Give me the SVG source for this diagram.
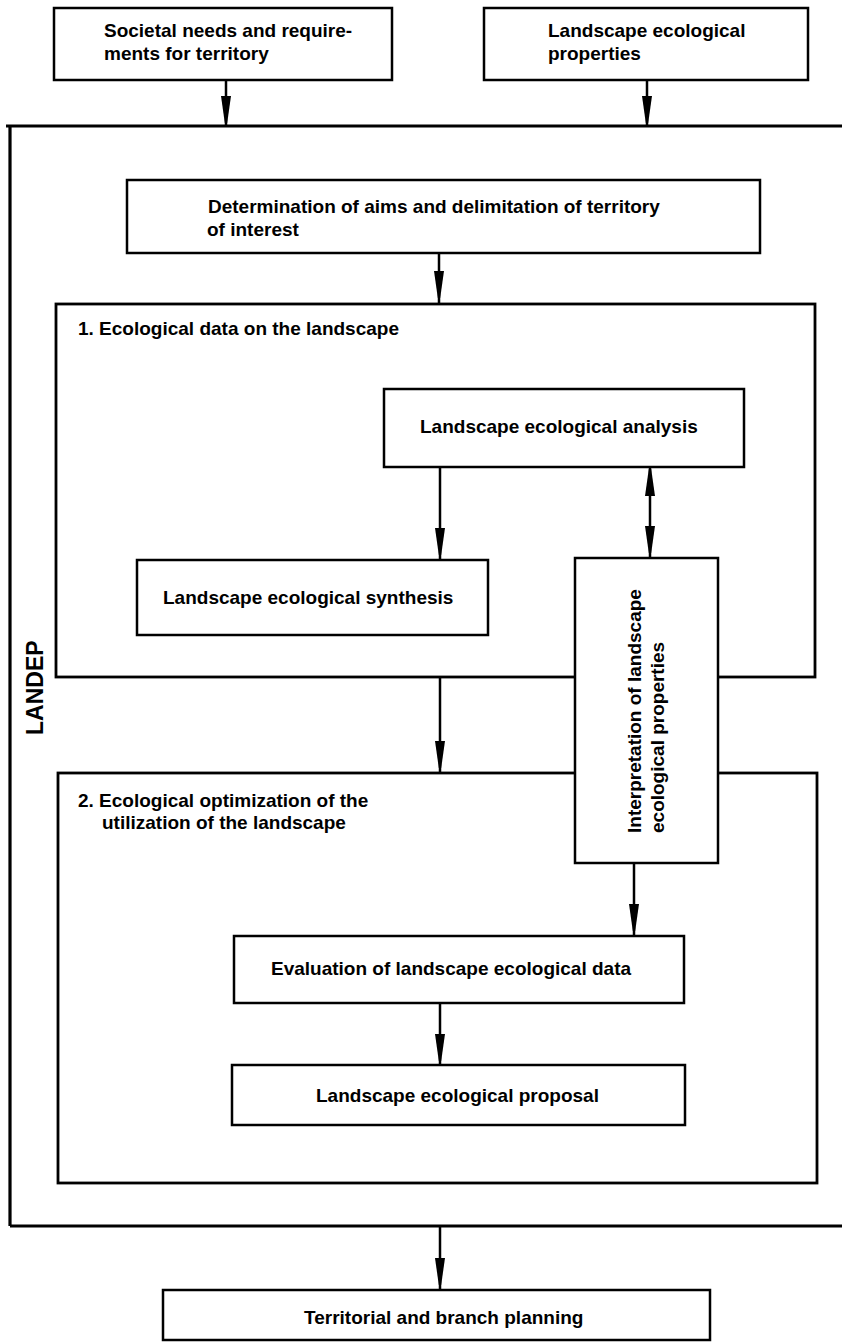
<svg xmlns="http://www.w3.org/2000/svg" width="842" height="1342" viewBox="0 0 842 1342">
<defs>
<style>
.box{fill:#fff;stroke:#000;stroke-width:2.5}
.sec{fill:none;stroke:#000;stroke-width:2.8}
.frame{fill:none;stroke:#000;stroke-width:3.2}
.line{stroke:#000;stroke-width:2.5;fill:none}
.head{fill:#000}
text{font-family:"Liberation Sans",Arial,Helvetica,sans-serif;font-weight:bold;font-size:19px;fill:#000}
.big{font-size:23px}
</style>
<path id="ah" d="M-5,0 L5,0 L1.2,27 L-1.2,27 Z"/>
</defs>
<rect width="842" height="1342" fill="#fff"/>
<g id="landep-frame">
<path class="frame" d="M6,126 H842 M10,126 V1226 M10,1226 H842"/>
<text class="big" transform="translate(43,735) rotate(-90)">LANDEP</text>
</g>
<g id="section1">
<rect class="sec" x="56" y="304" width="759" height="373"/>
<text x="78" y="335">1. Ecological data on the landscape</text>
</g>
<g id="section2">
<rect class="sec" x="58" y="773" width="759" height="410"/>
<text x="78" y="807">2. Ecological optimization of the</text>
<text x="102" y="829">utilization of the landscape</text>
</g>
<g id="connectors">
<line class="line" x1="226" y1="80" x2="226" y2="126"/>
<use href="#ah" x="226" y="96" class="head"/>
<line class="line" x1="647" y1="80" x2="647" y2="126"/>
<use href="#ah" x="647" y="96" class="head"/>
<line class="line" x1="439" y1="253" x2="439" y2="304"/>
<use href="#ah" x="439" y="271" class="head"/>
<line class="line" x1="440" y1="467" x2="440" y2="560"/>
<use href="#ah" x="440" y="528" class="head"/>
<line class="line" x1="650" y1="467" x2="650" y2="558"/>
<use href="#ah" x="650" y="526" class="head"/>
<use href="#ah" transform="translate(650,496) scale(1,-1)" class="head"/>
<line class="line" x1="440" y1="677" x2="440" y2="773"/>
<use href="#ah" x="440" y="741" class="head"/>
<line class="line" x1="634" y1="863" x2="634" y2="936"/>
<use href="#ah" x="634" y="904" class="head"/>
<line class="line" x1="440" y1="1003" x2="440" y2="1065"/>
<use href="#ah" x="440" y="1034" class="head"/>
<line class="line" x1="440" y1="1226" x2="440" y2="1290"/>
<use href="#ah" x="440" y="1258" class="head"/>
</g>
<g id="societal">
<rect class="box" x="54" y="8" width="338" height="72"/>
<text x="104" y="37">Societal needs and require-</text>
<text x="104" y="60">ments for territory</text>
</g>
<g id="properties">
<rect class="box" x="484" y="8" width="324" height="72"/>
<text x="548" y="37">Landscape ecological</text>
<text x="548" y="60">properties</text>
</g>
<g id="determination">
<rect class="box" x="127" y="180" width="633" height="73"/>
<text x="208" y="213">Determination of aims and delimitation of territory</text>
<text x="207" y="236">of interest</text>
</g>
<g id="analysis">
<rect class="box" x="384" y="389" width="360" height="78"/>
<text x="420" y="433">Landscape ecological analysis</text>
</g>
<g id="synthesis">
<rect class="box" x="137" y="560" width="351" height="75"/>
<text x="163" y="604">Landscape ecological synthesis</text>
</g>
<g id="interpretation">
<rect class="box" x="575" y="558" width="143" height="305"/>
<text transform="translate(641,833) rotate(-90)">Interpretation of landscape</text>
<text transform="translate(664,833) rotate(-90)">ecological properties</text>
</g>
<g id="evaluation">
<rect class="box" x="234" y="936" width="450" height="67"/>
<text x="271" y="975">Evaluation of landscape ecological data</text>
</g>
<g id="proposal">
<rect class="box" x="232" y="1065" width="453" height="60"/>
<text x="316" y="1102">Landscape ecological proposal</text>
</g>
<g id="territorial">
<rect class="box" x="163" y="1290" width="547" height="50"/>
<text x="304" y="1324">Territorial and branch planning</text>
</g>
</svg>
